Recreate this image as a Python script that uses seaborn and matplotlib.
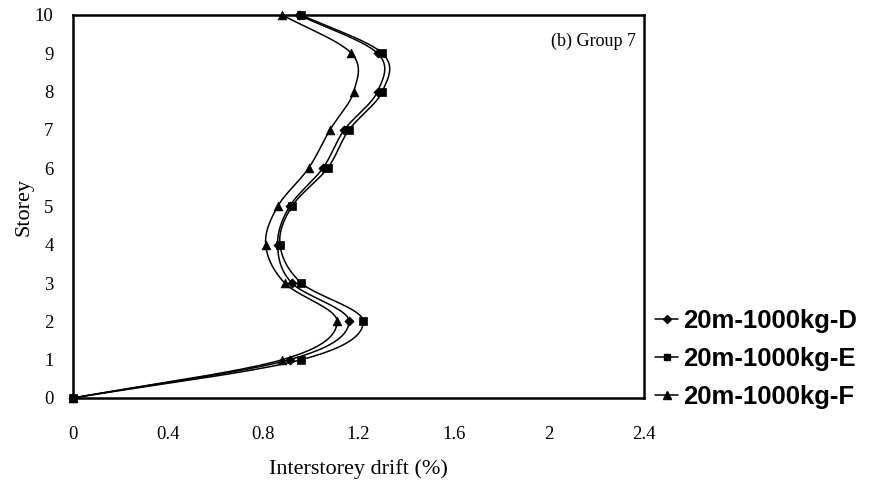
import numpy as np
import pandas as pd
import seaborn as sns
import matplotlib
matplotlib.use("Agg")
import matplotlib.pyplot as plt
from matplotlib.lines import Line2D

# ---- data ----
storey = [0, 1, 2, 3, 4, 5, 6, 7, 8, 9, 10]
drift_D = [0, 0.91, 1.16, 0.92, 0.86, 0.91, 1.05, 1.14, 1.28, 1.28, 0.95]
drift_E = [0, 0.96, 1.22, 0.96, 0.87, 0.92, 1.07, 1.16, 1.30, 1.30, 0.96]
drift_F = [0, 0.88, 1.11, 0.89, 0.81, 0.86, 0.99, 1.08, 1.18, 1.17, 0.88]
series_names = ["20m-1000kg-D", "20m-1000kg-E", "20m-1000kg-F"]
x_ticks = [0, 0.4, 0.8, 1.2, 1.6, 2.0, 2.4]
x_tick_labels = ["0", "0.4", "0.8", "1.2", "1.6", "2", "2.4"]
y_ticks = [0, 1, 2, 3, 4, 5, 6, 7, 8, 9, 10]
panel_label = "(b) Group 7"
x_label = "Interstorey drift (%)"
y_label = "Storey"

markers = ["D", "s", "^"]
marker_sizes = [22, 30, 40]


def smooth(xs, ys, n=24):
    pts = np.column_stack([xs, ys]).astype(float)
    pad = np.vstack([2 * pts[0] - pts[1], pts, 2 * pts[-1] - pts[-2]])
    out = []
    t = np.linspace(0, 1, n, endpoint=False)[:, None]
    for i in range(len(pts) - 1):
        p0, p1, p2, p3 = pad[i], pad[i + 1], pad[i + 2], pad[i + 3]
        seg = 0.5 * ((2 * p1) + (-p0 + p2) * t
                     + (2 * p0 - 5 * p1 + 4 * p2 - p3) * t ** 2
                     + (-p0 + 3 * p1 - 3 * p2 + p3) * t ** 3)
        out.append(seg)
    out.append(pts[-1][None, :])
    arr = np.vstack(out)
    return arr[:, 0], arr[:, 1]


sns.set_style("white")
plt.rcParams["font.family"] = ["Liberation Serif", "DejaVu Serif"]
plt.rcParams["text.color"] = "black"
plt.rcParams["axes.labelcolor"] = "black"
plt.rcParams["xtick.color"] = "black"
plt.rcParams["ytick.color"] = "black"

fig = plt.figure(figsize=(8.73, 4.87), dpi=100)
ax = fig.add_axes([73 / 873, 1 - 398 / 487, (644 - 73) / 873, (398 - 15) / 487])

for name, drift, m, ms in zip(series_names, [drift_D, drift_E, drift_F], markers, marker_sizes):
    sx, sy = smooth(drift, storey)
    sns.lineplot(x=sx, y=sy, sort=False, estimator=None, color="black",
                 linewidth=1.1, ax=ax)
    sns.scatterplot(x=drift, y=storey, marker=m, s=ms, color="black",
                    edgecolor="black", linewidth=0.5, ax=ax, zorder=5, clip_on=False)

ax.set_xlim(0, 2.4)
ax.set_ylim(0, 10)
ax.set_xticks(x_ticks)
ax.set_xticklabels(x_tick_labels)
ax.set_yticks(y_ticks)
ax.tick_params(axis="both", direction="in", length=5, width=1, colors="black",
               labelsize=13.5)
ax.tick_params(axis="x", pad=20)
ax.tick_params(axis="y", pad=14)
for s in ax.spines.values():
    s.set_visible(True)
    s.set_color("black")
    s.set_linewidth(1.8)

ax.set_xlabel(x_label, fontsize=16, labelpad=12, color="black")
ax.set_ylabel(y_label, fontsize=16, labelpad=1, color="black")
ax.text(0.985, 0.955, panel_label, transform=ax.transAxes, ha="right", va="top",
        fontsize=13, color="black")

handles = [Line2D([0], [0], color="black", lw=1.1, marker=m, markersize=ms ** 0.5 * 0.9,
                  markerfacecolor="black") for m, ms in zip(markers, marker_sizes)]
leg = fig.legend(handles, series_names, loc="center left",
                 bbox_to_anchor=(655 / 873, 1 - 359 / 487), frameon=False,
                 prop={"family": "Liberation Sans", "weight": "bold", "size": 18.5},
                 handlelength=0.9, handletextpad=0.2, labelspacing=0.55, borderpad=0,
                 borderaxespad=0)
for t in leg.get_texts():
    t.set_color("black")

fig.savefig("out.png", dpi=100)
